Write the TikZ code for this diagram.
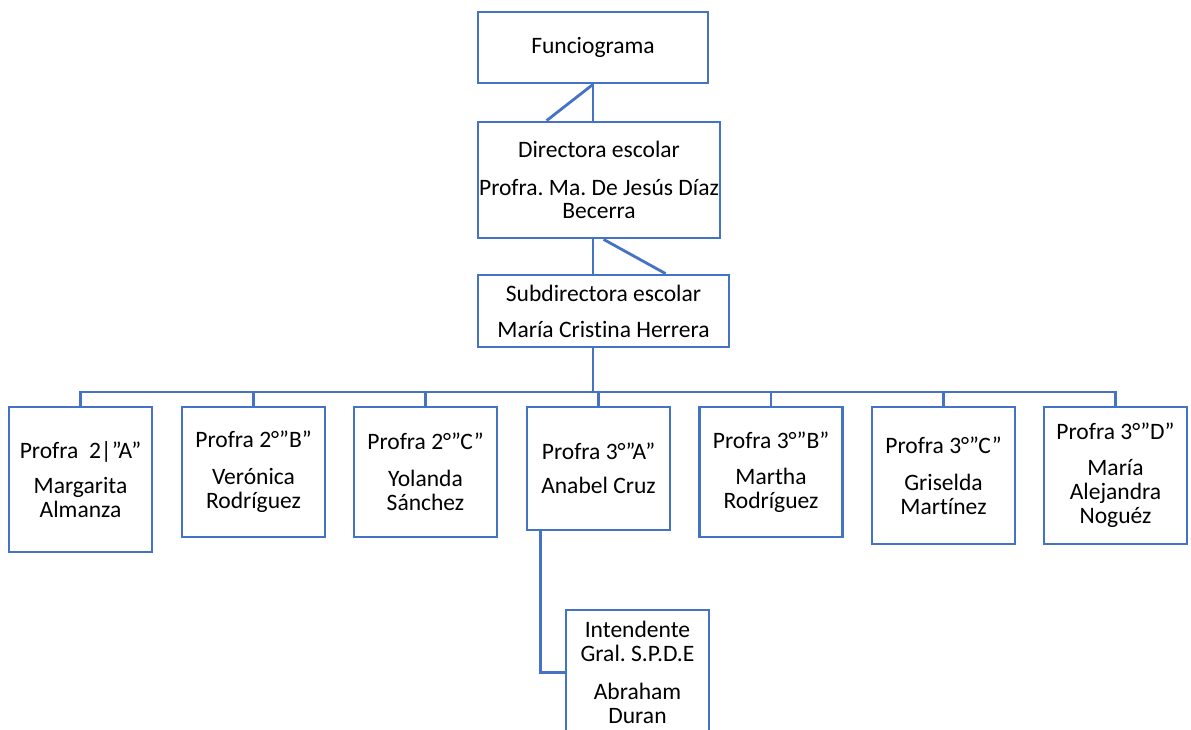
\documentclass[tikz,border=0pt]{standalone}
\usepackage{fontspec}
\setmainfont[Ligatures=NoCommon]{Carlito}
\usepackage{tikz}
\usetikzlibrary{positioning,calc}
\definecolor{boxblue}{RGB}{68,114,196}
\frenchspacing
\tikzset{
    orgbox/.style = {
        draw=boxblue,
        shape=rectangle,
        line width=1.6pt,
        inner sep=0pt,
        align=center,
        font=\fontsize{13.4}{13.6}\selectfont
    },
    teacher/.style = {
        orgbox,
        minimum width=2.86cm
    },
    link/.style = {
        draw=boxblue,
        line width=1.6pt
    },
}
\begin{document}
\begin{tikzpicture}[x=0.02cm,y=-0.02cm]
            \useasboundingbox (0,0) rectangle (1191,730);

            \node[orgbox, minimum width=4.6cm, minimum height=1.42cm] (fun) at (593,47.5) {Funciograma};
            \node[orgbox, minimum width=4.84cm, minimum height=2.32cm] (dir) at (599,180) {Directora escolar\\[0.28cm]Profra. Ma. De Jesús Díaz\\Becerra};
            \node[orgbox, minimum width=5.02cm, minimum height=1.44cm] (sub) at (603.5,311) {Subdirectora escolar\\[0.24cm]María Cristina Herrera};

            \node[teacher, minimum height=2.9cm] (p1) at (80.5,479.5) {Profra\ \ 2|”A”\\[0.24cm]Margarita\\Almanza};
            \node[teacher, minimum height=2.6cm] (p2) at (253.5,472) {Profra 2°”B”\\[0.26cm]Verónica\\Rodríguez};
            \node[teacher, minimum height=2.6cm] (p3) at (425.5,472) {Profra 2°”C”\\[0.26cm]Yolanda\\Sánchez};
            \node[teacher, minimum height=2.46cm] (p4) at (598.5,468.5) {Profra 3°”A”\\[0.2cm]Anabel Cruz};
            \node[teacher, minimum height=2.6cm] (p5) at (771,472) {Profra 3°”B”\\[0.24cm]Martha\\Rodríguez};
            \node[teacher, minimum height=2.74cm] (p6) at (943.5,475.5) {Profra 3°”C”\\[0.26cm]Griselda\\Martínez};
            \node[teacher, minimum height=2.74cm] (p7) at (1115.5,475.5) {Profra 3°”D”\\[0.24cm]María\\Alejandra\\Noguéz};

            \node[teacher, minimum height=2.5cm] (int) at (637.5,672.5) {Intendente\\Gral. S.P.D.E\\[0.28cm]Abraham\\Duran};

            \coordinate (bus) at (593,392);

            \path[link] (fun.south) -- (fun.south |- dir.north);
            \path[link] (fun.south) -- ([xshift=1.4cm]dir.north west);

            \path[link] (fun.south |- dir.south) -- (fun.south |- sub.north);
            \path[link] ([xshift=2.54cm]dir.south west) -- ([xshift=3.78cm]sub.north west);

            \path[link] (bus |- sub.south) -- (bus);
            \path[link] (p1.north) |- (bus) -| (p7.north);
            \foreach \p in {p2,p3,p4,p5,p6}
                \path[link] (\p.north) -- (\p.north |- bus);

            \path[link] ([xshift=0.3cm]p4.south west) |- (int.west);

        \end{tikzpicture}
\end{document}
